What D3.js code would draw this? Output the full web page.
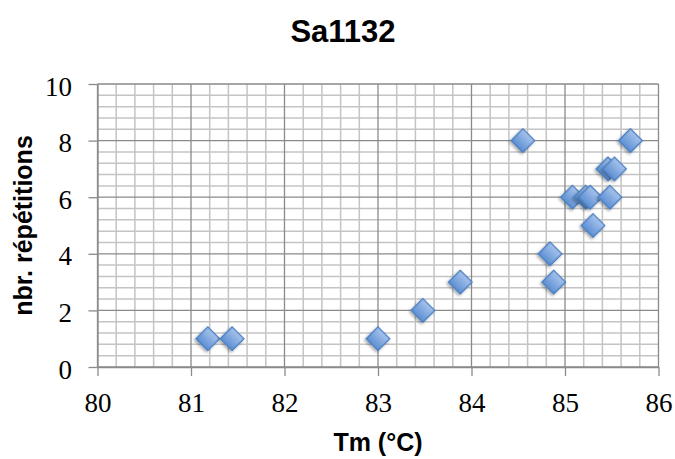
<!DOCTYPE html>
<html><head><meta charset="utf-8">
<script src="https://cdn.jsdelivr.net/npm/d3@7"></script>
<style>body{margin:0;background:#fff}svg{display:block}</style>
</head><body>
<script>
const title = "Sa1132";
const xTitle = "Tm (°C)";
const yTitle = "nbr. répétitions";
const tm  = [81.18, 81.44, 83.0, 83.48, 83.88, 84.55, 84.84, 84.88, 85.08, 85.22, 85.27, 85.30, 85.46, 85.48, 85.53, 85.70];
const rep = [1, 1, 1, 2, 3, 8, 4, 3, 6, 6, 6, 5, 7, 6, 7, 8];
const xTicks = [80, 81, 82, 83, 84, 85, 86];
const yTicks = [0, 2, 4, 6, 8, 10];

const W = 675, H = 459;
const m = {left: 97.5, right: 658.5, top: 84, bottom: 367};
const svg = d3.select("body").append("svg").attr("width", W).attr("height", H);

const x = d3.scaleLinear().domain([80, 86]).range([m.left, m.right]);
const y = d3.scaleLinear().domain([0, 10]).range([m.bottom, m.top]);

const defs = svg.append("defs");
const g = defs.append("linearGradient").attr("id","mk").attr("x1","0").attr("y1","0").attr("x2","0").attr("y2","1");
g.append("stop").attr("offset","0").attr("stop-color","#a7c3ec");
g.append("stop").attr("offset","1").attr("stop-color","#5d8fd3");
const f = defs.append("filter").attr("id","sh").attr("x","-50%").attr("y","-50%").attr("width","200%").attr("height","200%");
f.append("feDropShadow").attr("dx",0).attr("dy",2).attr("stdDeviation",1.5).attr("flood-color","#000").attr("flood-opacity",0.35);

// minor gridlines
const xMinor = d3.range(80, 86.001, 0.2).filter(v => Math.abs(v - Math.round(v)) > 1e-6);
const yMinor = d3.range(0, 10.001, 0.4).filter(v => Math.abs(v/2 - Math.round(v/2)) > 1e-6);
const grid = svg.append("g");
grid.selectAll(".vx").data(xMinor).join("line")
  .attr("x1", d => x(d)).attr("x2", d => x(d)).attr("y1", m.top).attr("y2", m.bottom)
  .attr("stroke", "#c4c4c4").attr("stroke-width", 1.5);
grid.selectAll(".hy").data(yMinor).join("line")
  .attr("y1", d => y(d)).attr("y2", d => y(d)).attr("x1", m.left).attr("x2", m.right)
  .attr("stroke", "#c4c4c4").attr("stroke-width", 1.5);
// major gridlines
grid.selectAll(".VX").data(xTicks).join("line")
  .attr("x1", d => x(d)).attr("x2", d => x(d)).attr("y1", m.top).attr("y2", m.bottom)
  .attr("stroke", "#8a8a8a").attr("stroke-width", 1.3);
grid.selectAll(".HY").data(yTicks).join("line")
  .attr("y1", d => y(d)).attr("y2", d => y(d)).attr("x1", m.left).attr("x2", m.right)
  .attr("stroke", "#8a8a8a").attr("stroke-width", 1.3);

// axes
const xAxis = svg.append("g").attr("transform", `translate(0,${m.bottom})`)
  .call(d3.axisBottom(x).tickValues(xTicks).tickFormat(d3.format("d")).tickSize(9).tickPadding(6).tickSizeOuter(0));
const yAxis = svg.append("g").attr("transform", `translate(${m.left},0)`)
  .call(d3.axisLeft(y).tickValues(yTicks).tickFormat(d3.format("d")).tickSize(9).tickPadding(16.5).tickSizeOuter(0));
[xAxis, yAxis].forEach(a => {
  a.select(".domain").attr("stroke", "#8a8a8a").attr("stroke-width", 1.3);
  a.selectAll(".tick line").attr("stroke", "#8a8a8a").attr("stroke-width", 1.3);
  a.selectAll("text").attr("font-family", "'Liberation Serif', serif").attr("font-size", 27).attr("fill", "#000");
});
xAxis.selectAll("text").attr("dy", 30);
yAxis.selectAll("text").attr("dy", 11);

// points
svg.append("g").selectAll("path").data(tm.map((t, i) => [t, rep[i]])).join("path")
  .attr("d", d3.symbol().type(d3.symbolSquare).size(280))
  .attr("transform", d => `translate(${x(d[0])},${y(d[1])}) rotate(45)`)
  .attr("fill", "url(#mk)").attr("stroke", "#4a7ebf").attr("stroke-width", 1.3)
  .attr("filter", "url(#sh)");

// titles
svg.append("text").attr("x", 343).attr("y", 42).attr("text-anchor", "middle")
  .attr("font-family", "'Liberation Sans', Arial, sans-serif").attr("font-weight", "bold").attr("font-size", 31)
  .text(title);
svg.append("text").attr("x", (m.left + m.right) / 2).attr("y", 451).attr("text-anchor", "middle")
  .attr("font-family", "'Liberation Sans', Arial, sans-serif").attr("font-weight", "bold").attr("font-size", 25)
  .text(xTitle);
svg.append("text").attr("transform", `translate(32,${(m.top + m.bottom) / 2}) rotate(-90)`).attr("text-anchor", "middle")
  .attr("font-family", "'Liberation Sans', Arial, sans-serif").attr("font-weight", "bold").attr("font-size", 25)
  .text(yTitle);
</script>
</body></html>
